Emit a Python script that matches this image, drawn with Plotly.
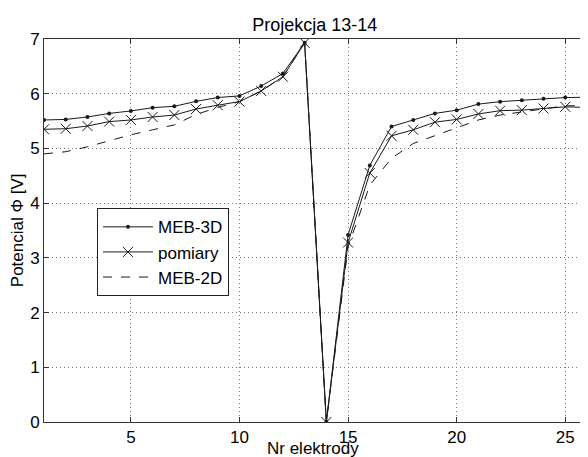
import plotly.graph_objects as go

electrodes = list(range(1, 27))
meb3d = [5.52, 5.53, 5.575, 5.64, 5.685, 5.745, 5.77, 5.86, 5.93, 5.96, 6.14, 6.37, 6.93,
         0.0, 3.42, 4.69, 5.40, 5.52, 5.64, 5.70, 5.81, 5.855, 5.88, 5.91, 5.93, 5.935]
pomiary = [5.35, 5.36, 5.41, 5.49, 5.52, 5.575, 5.61, 5.72, 5.79, 5.855, 6.05, 6.31, 6.93,
           0.0, 3.28, 4.55, 5.23, 5.34, 5.48, 5.53, 5.63, 5.69, 5.70, 5.73, 5.76, 5.75]
meb2d = [4.90, 4.94, 5.03, 5.14, 5.25, 5.34, 5.43, 5.62, 5.75, 5.855, 6.05, 6.31, 6.93,
         0.0, 3.20, 4.33, 4.82, 5.09, 5.23, 5.37, 5.52, 5.61, 5.67, 5.73, 5.78, 5.78]

x_ticks = [5, 10, 15, 20, 25]
y_ticks = [0, 1, 2, 3, 4, 5, 6, 7]

FONT = "Liberation Sans, Arial, sans-serif"
LC = "#1a1a1a"

# page body has an 8px margin; plot area occupies fig px 36..579 x 31..414.3
L, T, PW, PH = 36, 31, 543, 383.3
W, H = 588, 457

fig = go.Figure()
fig.add_trace(go.Scatter(x=electrodes, y=meb3d, name="MEB-3D", mode="lines+markers",
                         line=dict(color=LC, width=1),
                         marker=dict(symbol="circle", size=4, color=LC)))
fig.add_trace(go.Scatter(x=electrodes, y=pomiary, name="pomiary", mode="lines+markers",
                         line=dict(color=LC, width=1),
                         marker=dict(symbol="x-thin", size=10, color=LC,
                                     line=dict(color=LC, width=1))))
fig.add_trace(go.Scatter(x=electrodes, y=meb2d, name="MEB-2D", mode="lines",
                         line=dict(color=LC, width=1, dash="dash")))

axis_common = dict(showline=True, linecolor="#333", linewidth=1, mirror="ticks",
                   ticks="inside", ticklen=5, tickcolor="#333",
                   showgrid=True, gridcolor="#777", griddash="1px,3px", gridwidth=1,
                   zeroline=False, automargin=False,
                   tickfont=dict(family=FONT, size=17, color="black"))

fig.update_xaxes(range=[1, 26], tickvals=x_ticks, ticklabelstandoff=0, **axis_common)
fig.update_yaxes(range=[0, 7], tickvals=y_ticks, **axis_common)

fig.update_layout(
    width=W, height=H,
    margin=dict(l=L, r=W - L - PW, t=T, b=H - T - PH, autoexpand=False),
    paper_bgcolor="white", plot_bgcolor="white",
    font=dict(family=FONT, size=17, color="black"),
    title=dict(text="Projekcja 13-14", x=(L + 270.7) / W, xanchor="center",
               y=1 - 16.5 / H, yanchor="middle", font=dict(family=FONT, size=18)),
    legend=dict(x=0.0976, y=0.558, xanchor="left", yanchor="top",
                bordercolor="#222", borderwidth=1, bgcolor="white", itemwidth=50,
                font=dict(family=FONT, size=17), tracegroupgap=0),
    showlegend=True,
)

fig.add_annotation(text="Nr elektrody", xref="paper", yref="paper",
                   x=0.496, y=-15.5 / PH, xanchor="center", yanchor="top",
                   showarrow=False, font=dict(family=FONT, size=17))
fig.add_annotation(text="Potencial Φ [V]", xref="paper", yref="paper",
                   x=-26.3 / PW, y=0.5, xanchor="center", yanchor="middle", textangle=-90,
                   showarrow=False, font=dict(family=FONT, size=17))

fig.write_html("out.html")
